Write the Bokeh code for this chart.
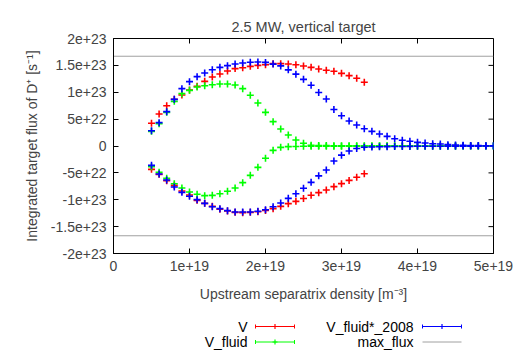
from bokeh.plotting import figure
from bokeh.models import Range1d, FixedTicker
from bokeh.layouts import column
from bokeh.core.properties import value
from bokeh.embed import file_html
from bokeh.resources import INLINE
import numpy as np

# ---------------- data (density in 1e19 m^-3, flux in 1e22 s^-1) ----------------
DENS_UNIT = 1e19
FLUX_UNIT = 1e22

dens_V = [0.5, 0.6, 0.7, 0.8, 0.9, 1.0, 1.1, 1.2, 1.3, 1.4, 1.5, 1.6, 1.7, 1.8, 1.9,
          2.0, 2.1, 2.2, 2.3, 2.4, 2.5, 2.6, 2.7, 2.8, 2.9, 3.0, 3.1, 3.2, 3.3]
V_upper = [4.22, 5.95, 7.5, 8.7, 9.5, 10.42, 11.1, 12.03, 12.84, 13.4, 13.95, 14.4, 14.57, 14.82, 15.0,
           15.13, 15.32, 15.32, 15.26, 15.13, 14.88, 14.63, 14.33, 14.08, 13.9, 13.52, 13.09, 12.6, 11.85]
V_lower = [-4.34, -5.27, -6.45, -7.32, -8.37, -9.12, -10.11, -10.67, -11.23, -11.78, -12.09, -12.34, -12.4, -12.34, -12.22,
           -12.0, -11.66, -11.23, -10.73, -10.3, -9.78, -9.15, -8.68, -8.19, -7.56, -7.0, -6.4, -5.8, -5.15]

dens_F = [0.5, 0.6, 0.7, 0.8, 0.9, 1.0, 1.1, 1.2, 1.3, 1.4, 1.5, 1.6, 1.7, 1.8, 1.9,
          2.0, 2.1, 2.2, 2.3, 2.4, 2.5, 2.6, 2.7, 2.8, 2.9, 3.0, 3.1, 3.2, 3.3, 3.4,
          3.5, 3.6, 3.7, 3.8, 3.9, 4.0, 4.1, 4.2, 4.3, 4.4, 4.5, 4.6, 4.7, 4.8, 4.9, 5.0]
Vfluid_upper = [2.73, 4.16, 6.26, 8.31, 9.74, 10.35, 10.98, 11.22, 11.4, 11.53, 11.53, 11.35, 10.67, 9.43, 8.0,
                6.26, 4.53, 3.16, 2.05, 1.12, 0.5, 0.15, 0.1, 0.08, 0.06, 0.05, 0.05, 0.04, 0.04, 0.04,
                0.03, 0.03, 0.03, 0.03, 0.02, 0.02, 0.02, 0.02, 0.02, 0.02, 0.01, 0.01, 0.01, 0.01, 0.01, 0.01]
Vfluid_lower = [-3.85, -4.9, -6.02, -7.01, -7.81, -8.56, -8.99, -9.24, -9.18, -8.87, -8.43, -7.81, -6.82, -5.46, -3.97,
                -2.29, -0.81, -0.25, -0.12, -0.08, -0.06, -0.05, -0.05, -0.04, -0.04, -0.04, -0.03, -0.03, -0.03, -0.03,
                -0.02, -0.02, -0.02, -0.02, -0.02, -0.02, -0.01, -0.01, -0.01, -0.01, -0.01, -0.01, -0.01, -0.01, -0.01, -0.01]

dens_B = dens_F
V2008_upper = [2.85, 4.34, 6.39, 8.68, 10.67, 11.97, 12.9, 13.58, 14.2, 14.63, 14.95, 15.26, 15.44, 15.57, 15.63,
               15.55, 15.24, 14.9, 14.17, 13.37, 12.4, 11.29, 9.96, 8.74, 6.8, 5.64, 4.65, 3.9, 3.22, 2.73,
               2.23, 1.8, 1.36, 1.08, 0.87, 0.68, 0.56, 0.43, 0.37, 0.25, 0.2, 0.15, 0.1, 0.08, 0.05, 0.04]
V2008_lower = [-3.6, -5.21, -6.33, -7.63, -8.62, -9.36, -9.98, -10.67, -11.29, -11.66, -12.03, -12.28, -12.28, -12.28, -12.15,
               -11.85, -11.29, -10.6, -9.74, -8.87, -7.85, -6.76, -5.55, -4.47, -2.79, -1.7, -0.93, -0.46, -0.22, -0.18,
               -0.15, -0.12, -0.1, -0.08, -0.07, -0.06, -0.05, -0.04, -0.04, -0.03, -0.03, -0.02, -0.02, -0.02, -0.01, -0.01]

max_flux = 1.67e23

x_ticks = [0, 1e19, 2e19, 3e19, 4e19, 5e19]
x_tick_labels = ["0", "1e+19", "2e+19", "3e+19", "4e+19", "5e+19"]
y_ticks = [-2e23, -1.5e23, -1e23, -5e22, 0, 5e22, 1e23, 1.5e23, 2e23]
y_tick_labels = ["-2e+23", "-1.5e+23", "-1e+23", "-5e+22", "0", "5e+22", "1e+23", "1.5e+23", "2e+23"]

series_names = ["V", "V_fluid", "V_fluid*_2008", "max_flux"]
series_colors = ["#ff0000", "#00ff00", "#0000ff", "#a0a0a0"]

FONT = "Liberation Sans"
FS = "14px"

# layout constants (pixels)
W, H_MAIN, H_LEG = 526, 310, 40
BL, BR, BT, BB = 113, 33, 38, 57
FRAME_W = W - BL - BR
FRAME_H = H_MAIN - BT - BB
TICK = 5

X0, X1 = 0, 5e19
Y0, Y1 = -2e23, 2e23

# ---------------- main figure ----------------
p = figure(width=W, height=H_MAIN, output_backend="svg", toolbar_location=None,
           x_range=Range1d(X0, X1), y_range=Range1d(Y0, Y1),
           min_border_left=BL, min_border_right=BR, min_border_top=BT, min_border_bottom=BB,
           title="2.5 MW, vertical target")
p.title.align = "center"
p.title.offset = 10
p.title.text_font = FONT
p.title.text_font_size = "14.5px"
p.title.text_font_style = "normal"
p.title.standoff = 8
p.xgrid.visible = False
p.ygrid.visible = False
p.outline_line_color = "black"
p.outline_line_width = 1
p.background_fill_color = "white"
p.border_fill_color = "white"

for ax in (p.xaxis[0], p.yaxis[0]):
    ax.major_tick_in = TICK
    ax.major_tick_out = 0
    ax.minor_tick_line_color = None
    ax.axis_line_color = "black"
    ax.major_label_text_font = FONT
    ax.major_label_text_font_size = FS
    ax.axis_label_text_font = FONT
    ax.axis_label_text_font_size = FS
    ax.axis_label_text_font_style = "normal"

p.xaxis.ticker = FixedTicker(ticks=x_ticks)
p.xaxis.major_label_overrides = dict(zip(x_ticks, x_tick_labels))
p.xaxis.axis_label = "Upstream separatrix density [m\u207b\u00b3]"
p.xaxis.major_label_standoff = 7
p.xaxis.axis_label_standoff = 12

p.yaxis.ticker = FixedTicker(ticks=y_ticks)
p.yaxis.major_label_overrides = dict(zip(y_ticks, y_tick_labels))
p.yaxis.axis_label = "Integrated target flux of D\u207a [s\u207b\u00b9]"
p.yaxis.major_label_standoff = 7
p.yaxis.axis_label_standoff = 8

# mirror ticks on top and right (gnuplot style)
dy_tick = TICK * (Y1 - Y0) / FRAME_H
dx_tick = TICK * (X1 - X0) / FRAME_W
p.segment(x_ticks, [Y1] * len(x_ticks), x_ticks, [Y1 - dy_tick] * len(x_ticks),
          line_color="black", line_width=1)
p.segment([X1] * len(y_ticks), y_ticks, [X1 - dx_tick] * len(y_ticks), y_ticks,
          line_color="black", line_width=1)

def sc(xs, ys, color):
    p.scatter(np.array(xs) * DENS_UNIT, np.array(ys) * FLUX_UNIT, marker="cross",
              size=7, line_width=1.6, line_color=color)

sc(dens_V, V_upper, series_colors[0])
sc(dens_V, V_lower, series_colors[0])
sc(dens_F, Vfluid_upper, series_colors[1])
sc(dens_F, Vfluid_lower, series_colors[1])
sc(dens_B, V2008_upper, series_colors[2])
sc(dens_B, V2008_lower, series_colors[2])

p.line([X0, X1], [max_flux, max_flux], line_color=series_colors[3], line_width=1)
p.line([X0, X1], [-max_flux, -max_flux], line_color=series_colors[3], line_width=1)

# ---------------- legend (gnuplot style: label left of sample) ----------------
# x range in canvas pixels (frame aligned with the main frame)
lg = figure(width=W, height=H_LEG, output_backend="svg", toolbar_location=None,
            x_range=Range1d(BL, W - BR), y_range=Range1d(H_LEG, 0),
            min_border_left=BL, min_border_right=BR, min_border_top=0, min_border_bottom=0,
            outline_line_color=None)
lg.axis.visible = False
lg.xgrid.visible = False
lg.ygrid.visible = False

leg_text_x = [247, 247, 413, 413]
leg_y = [16, 31.5, 16, 31.5]
leg_x0 = [255, 255, 422, 422]
leg_x1 = [294, 294, 461, 461]
has_points = [True, True, True, False]

lg.text(leg_text_x, leg_y, text=series_names, text_align="right", text_baseline="middle",
        text_font=value(FONT), text_font_size=FS, text_color="black")
for i in range(4):
    c = series_colors[i]
    lg.segment([leg_x0[i]], [leg_y[i]], [leg_x1[i]], [leg_y[i]], line_color=c, line_width=1)
    if has_points[i]:
        lg.segment([leg_x0[i], leg_x1[i]], [leg_y[i] - 2, leg_y[i] - 2],
                   [leg_x0[i], leg_x1[i]], [leg_y[i] + 2, leg_y[i] + 2], line_color=c, line_width=1)
        lg.scatter([(leg_x0[i] + leg_x1[i]) / 2], [leg_y[i]], marker="cross", size=5,
                   line_width=1.2, line_color=c)

layout = column(p, lg, spacing=0)
open("out.html", "w").write(file_html(layout, INLINE))
